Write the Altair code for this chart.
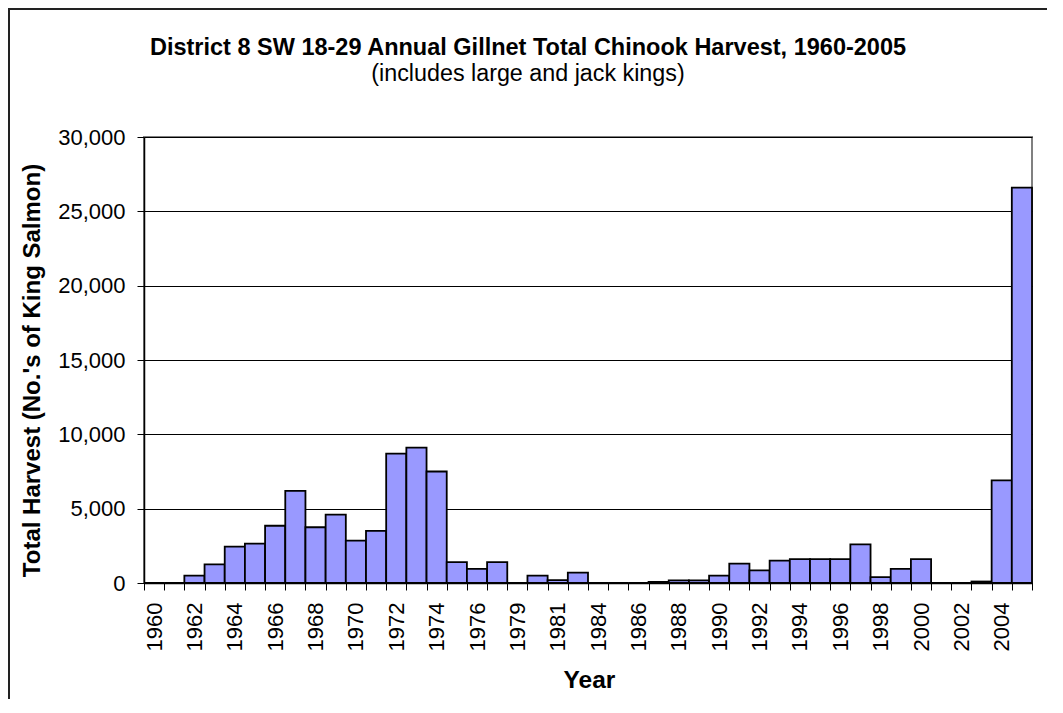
import altair as alt
import pandas as pd

# ---- data ----
years = ["1960", "1961", "1962", "1963", "1964", "1965", "1966", "1967", "1968", "1969",
         "1970", "1971", "1972", "1973", "1974", "1975", "1976", "1977", "1979", "1980",
         "1981", "1983", "1984", "1985", "1986", "1987", "1988", "1989", "1990", "1991",
         "1992", "1993", "1994", "1995", "1996", "1997", "1998", "1999", "2000", "2001",
         "2002", "2003", "2004", "2005"]
harvest = [0, 0, 500, 1250, 2450, 2650, 3850, 6200, 3750, 4600,
           2850, 3500, 8700, 9100, 7500, 1400, 950, 1400, 0, 500,
           200, 700, 0, 0, 0, 80, 180, 180, 500, 1300,
           850, 1500, 1600, 1600, 1600, 2600, 400, 950, 1600, 0,
           0, 100, 6900, 26600]
shown_years = ["1960", "1962", "1964", "1966", "1968", "1970", "1972", "1974", "1976",
               "1979", "1981", "1984", "1986", "1988", "1990", "1992", "1994", "1996",
               "1998", "2000", "2002", "2004"]
y_ticks = [0, 5000, 10000, 15000, 20000, 25000, 30000]

title_text = "District 8 SW 18-29 Annual Gillnet Total Chinook Harvest, 1960-2005"
subtitle_text = "(includes large and jack kings)"
y_title = "Total Harvest (No.'s of King Salmon)"
x_title = "Year"

df = pd.DataFrame({"Year": years, "Harvest": harvest})

W, H = 888, 446
FONT = "Liberation Sans, Arial, sans-serif"
label_js = "[" + ",".join("'" + y + "'" for y in shown_years) + "]"

bars = alt.Chart(df).mark_bar(fill="#9999FF", stroke="#000000", strokeWidth=1.8).encode(
    x=alt.X(
        "Year:N", sort=years,
        scale=alt.Scale(paddingInner=0, paddingOuter=0),
        axis=alt.Axis(
            title=x_title, labelAngle=270,
            labelExpr="indexof(" + label_js + ", datum.value) >= 0 ? datum.value : ''",
            labelOverlap=False, tickBand="extent", tickSize=7, labelPadding=12,
            labelFont=FONT, labelFontSize=22, labelColor="#000",
            titleFont=FONT, titleFontSize=24.5, titleFontWeight="bold", titleColor="#000",
            titleX=445, titleY=97, titleAlign="center", titleBaseline="middle",
            domainColor="#000", tickColor="#000", domainWidth=1.5, grid=False,
        ),
    ),
    y=alt.Y(
        "Harvest:Q",
        scale=alt.Scale(domain=[0, 30000], nice=False),
        axis=alt.Axis(
            values=y_ticks, format=",.0f", title=y_title,
            tickSize=7, labelPadding=12,
            labelFont=FONT, labelFontSize=22, labelColor="#000",
            titleFont=FONT, titleFontSize=24, titleFontWeight="bold", titleColor="#000",
            titleX=-112, titleY=233, titleAngle=270, titleAlign="center", titleBaseline="middle",
            domainColor="#000", tickColor="#000", domainWidth=1.5,
            grid=True, gridColor="#000", gridWidth=1,
        ),
    ),
)

border = alt.Chart(pd.DataFrame({"k": [0]})).mark_rect(
    filled=False, stroke="#222222", strokeWidth=2
).encode(
    x=alt.value(-135), x2=alt.value(W + 200), y=alt.value(-128), y2=alt.value(H + 300)
)

title_layer = alt.Chart(pd.DataFrame({"t": [title_text]})).mark_text(
    font=FONT, fontSize=23.5, fontWeight="bold", align="center", baseline="alphabetic", color="#000"
).encode(x=alt.value(384), y=alt.value(-82), text="t:N")

subtitle_layer = alt.Chart(pd.DataFrame({"t": [subtitle_text]})).mark_text(
    font=FONT, fontSize=23.3, align="center", baseline="alphabetic", color="#000"
).encode(x=alt.value(384), y=alt.value(-56), text="t:N")

chart = alt.layer(border, bars, title_layer, subtitle_layer).properties(
    width=W, height=H,
    padding={"left": 136, "top": 129, "right": 15, "bottom": 116},
    autosize=alt.AutoSizeParams(type="none"),
).configure_view(stroke="#808080", strokeWidth=2)

chart.save("out.html", embed_options={"renderer": "svg", "actions": False})
